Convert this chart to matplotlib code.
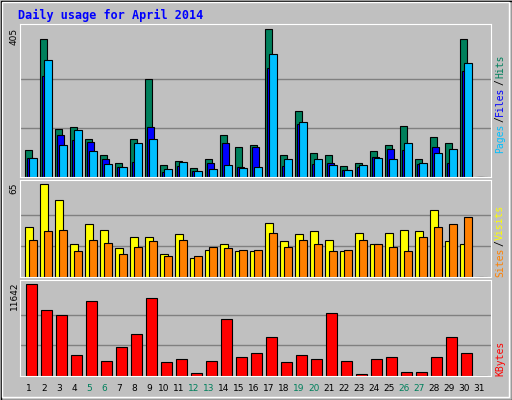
import matplotlib
matplotlib.use("Agg")
import matplotlib.pyplot as plt
import numpy as np

days = list(range(1, 32))
weekend = [5, 6, 12, 13, 19, 20, 26, 27]

hits = [75, 378, 131, 136, 105, 59, 39, 105, 268, 34, 45, 26, 48, 114, 83, 89, 405,
        61, 180, 67, 61, 31, 39, 72, 89, 141, 48, 111, 94, 378, 0]
files = [53, 276, 116, 101, 97, 50, 28, 42, 138, 15, 31, 17, 39, 94, 28, 83, 300,
         31, 144, 37, 39, 20, 28, 56, 78, 75, 37, 83, 39, 290, 0]
pages = [53, 320, 89, 130, 70, 37, 28, 92, 103, 23, 42, 17, 23, 34, 26, 28, 336,
         50, 152, 48, 34, 20, 34, 53, 50, 94, 39, 67, 78, 312, 0]
visits = [35, 65, 54, 23, 37, 33, 20, 28, 28, 16, 30, 13, 19, 23, 18, 18, 38,
          25, 30, 32, 26, 18, 31, 23, 31, 33, 32, 47, 25, 23, 0]
sites = [26, 32, 33, 18, 26, 24, 16, 21, 25, 15, 26, 15, 21, 20, 19, 19, 31,
         21, 26, 23, 18, 19, 26, 23, 21, 18, 28, 35, 37, 42, 0]
kbytes = [11642, 8328, 7690, 2719, 9475, 1954, 3611, 5268, 9858, 1827, 2209, 425,
          1954, 7180, 2464, 2974, 4886, 1827, 2719, 2209, 7945, 1954, 297, 2209,
          2464, 552, 552, 2464, 4886, 2974, 0]

W, H = 512, 400
BG = "#c0c0c0"
GREEN = "#00805c"
BLUE = "#0000ff"
CYAN = "#00bfff"
YELLOW = "#ffff00"
ORANGE = "#ff8000"
RED = "#ff0000"
MONO = "DejaVu Sans Mono"

fig = plt.figure(figsize=(W / 100, H / 100), dpi=100, facecolor=BG)

# outer border
ov = fig.add_axes([0, 0, 1, 1], zorder=-5)
ov.set_xlim(0, W)
ov.set_ylim(H, 0)
ov.axis("off")
ov.add_patch(plt.Rectangle((0.5, 0.5), W - 1, H - 1, fill=False, ec="black", lw=1))
ov.add_patch(plt.Rectangle((2, 2), W - 5, H - 5, fill=False, ec="white", lw=1))

fig.text(18 / W, 1 - 15 / H, "Daily usage for April 2014", color=BLUE,
         family=MONO, weight="bold", fontsize=8.5, va="center", ha="left")


def panel(y0, y1, ymax):
    ax = fig.add_axes([20 / W, 1 - y1 / H, (491 - 20) / W, (y1 - y0) / H])
    ax.set_facecolor(BG)
    ax.set_xlim(0, 31.4)
    ax.set_ylim(0, ymax)
    ax.set_xticks([])
    ax.set_yticks([])
    for s in ("left", "top"):
        ax.spines[s].set_color("white")
    for s in ("right", "bottom"):
        ax.spines[s].set_color("white")
    return ax


x = np.arange(31) + 0.13

# hits / files / pages
ax1 = panel(24, 177, 405 * 152.7 / 147.4)
for g in (405 / 3, 2 * 405 / 3):
    ax1.axhline(g, color="#808080", lw=1, zorder=0)
ax1.bar(x + 0.2, hits, width=0.49, align="edge", color=GREEN, ec="black", lw=0.8)
ax1.bar(x + 0.33, files, width=0.49, align="edge", color=BLUE, ec="black", lw=0.8)
ax1.bar(x + 0.47, pages, width=0.51, align="edge", color=CYAN, ec="black", lw=0.8)

# visits / sites
ax2 = panel(180, 277, 65 * 96 / 92)
for g in (65 / 3, 2 * 65 / 3):
    ax2.axhline(g, color="#808080", lw=1, zorder=0)
ax2.bar(x + 0.2, visits, width=0.55, align="edge", color=YELLOW, ec="black", lw=0.8)
ax2.bar(x + 0.47, sites, width=0.51, align="edge", color=ORANGE, ec="black", lw=0.8)

# kbytes
ax3 = panel(280, 376, 11642 * 95.4 / 91.4)
for g in (11642 / 3, 2 * 11642 / 3):
    ax3.axhline(g, color="#808080", lw=1, zorder=0)
ax3.bar(x + 0.27, kbytes, width=0.71, align="edge", color=RED, ec="black", lw=0.8)

# day labels
for d in days:
    ax3.text(d - 1 + 0.6, -0.13, str(d), transform=ax3.get_xaxis_transform(),
             ha="center", va="center", fontsize=6.5,
             color=GREEN if d in weekend else "black")

# max labels on left
for txt, ytop in (("405", 28), ("65", 183), ("11642", 282)):
    fig.text(14 / W, 1 - ytop / H, txt, rotation=90, ha="center", va="top",
             fontsize=6.5, color="black")


def side_label(parts, ybottom):
    y = ybottom
    for txt, col in parts:
        t = fig.text(500 / W, 1 - y / H, txt, rotation=90, ha="center", va="bottom",
                     family=MONO, fontsize=7, color=col)
        y -= len(txt) * 5.9 + 1


side_label([("Pages", CYAN), ("/", "black"), ("Files", BLUE), ("/", "black"),
            ("Hits", GREEN)], 153)
side_label([("Sites", ORANGE), ("/", "black"), ("Visits", YELLOW)], 277)
side_label([("KBytes", RED)], 376)

fig.savefig("out.png", dpi=100, facecolor=BG)
